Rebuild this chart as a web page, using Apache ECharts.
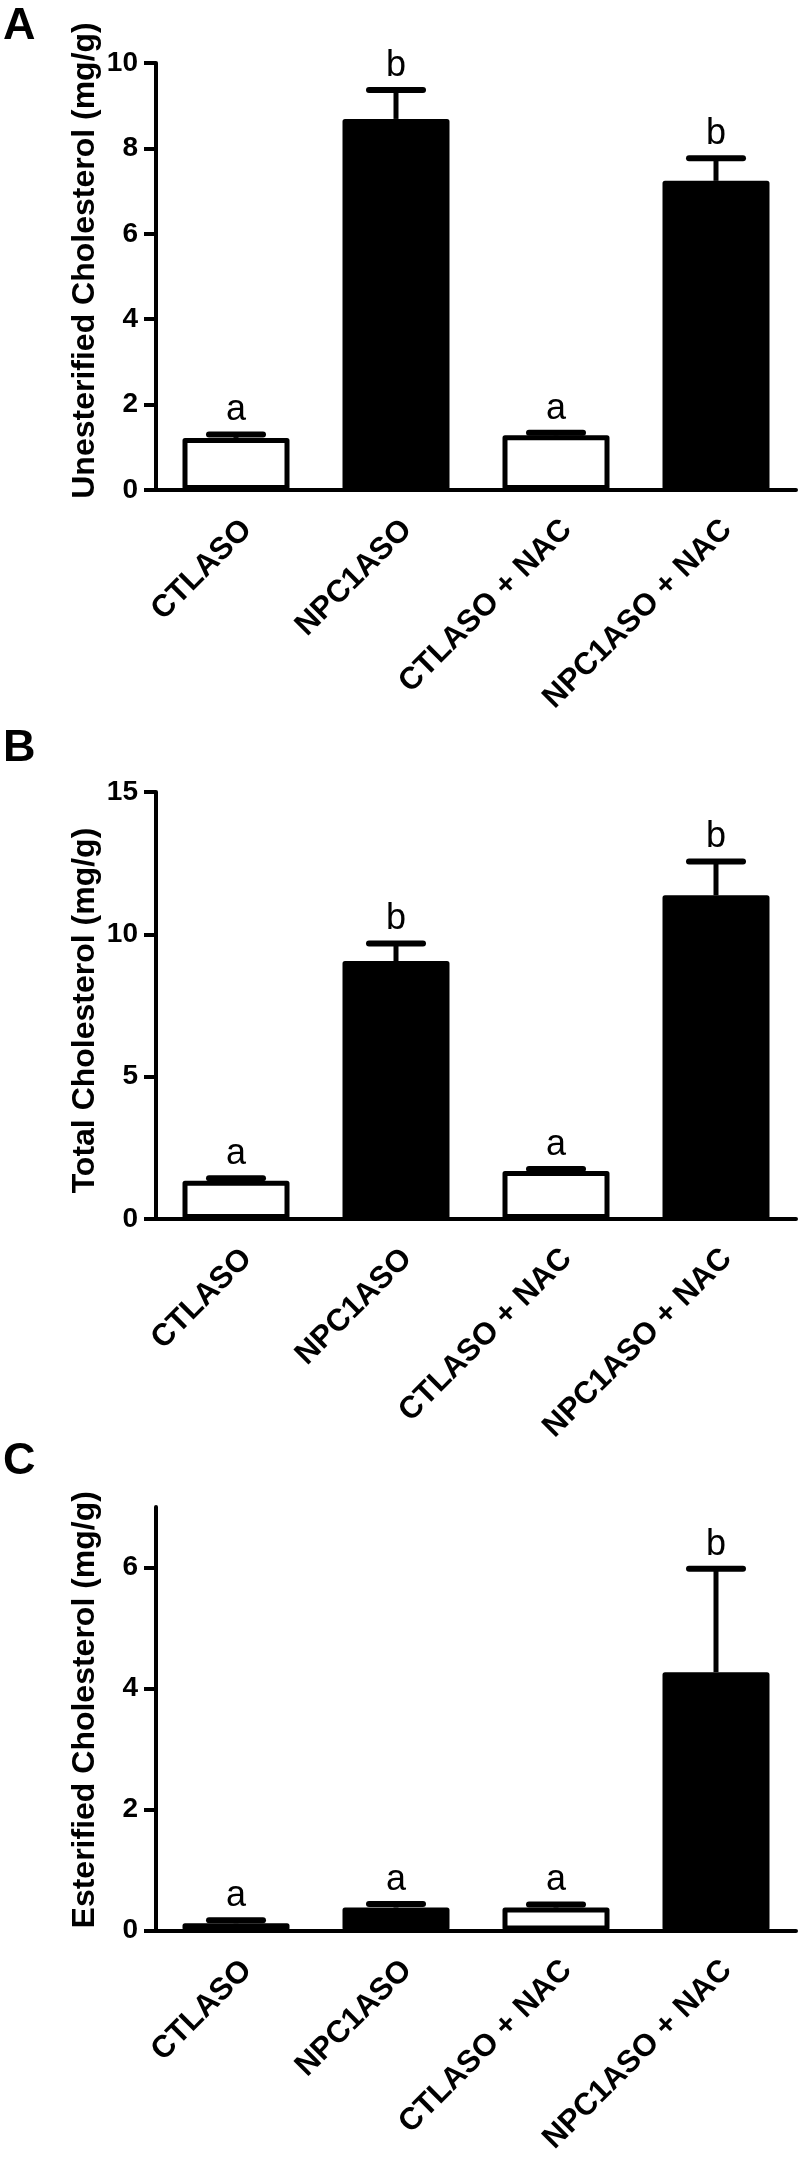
<!DOCTYPE html>
<html><head><meta charset="utf-8">
<script src="https://cdn.jsdelivr.net/npm/echarts@6/dist/echarts.min.js"></script>
<style>html,body{margin:0;padding:0;background:#fff}#c{width:800px;height:2157px}</style>
</head><body><div id="c"></div>
<script>
const categories = ['CTLASO', 'NPC1ASO', 'CTLASO + NAC', 'NPC1ASO + NAC'];
const barFills = ['#ffffff', '#000000', '#ffffff', '#000000'];
const unestMean = [1.22, 8.69, 1.28, 7.24];
const unestErr = [0.08, 0.68, 0.06, 0.53];
const unestLetters = ['a', 'b', 'a', 'b'];
const totalMean = [1.34, 9.06, 1.69, 11.37];
const totalErr = [0.09, 0.62, 0.07, 1.19];
const totalLetters = ['a', 'b', 'a', 'b'];
const esterMean = [0.12, 0.38, 0.38, 4.27];
const esterErr = [0.05, 0.06, 0.05, 1.71];
const esterLetters = ['a', 'a', 'a', 'b'];
const yTicksA = [0, 2, 4, 6, 8, 10];
const yTicksB = [0, 5, 10, 15];
const yTicksC = [0, 2, 4, 6];
const panelLabels = ['A', 'B', 'C'];
const yTitles = ['Unesterified Cholesterol (mg/g)', 'Total Cholesterol (mg/g)', 'Esterified Cholesterol (mg/g)'];

const FONT = '"Liberation Sans", Arial, Helvetica, sans-serif';
const panels = [
  {mean: unestMean, err: unestErr, letters: unestLetters, ticks: yTicksA, max: 10, interval: 2, top: 63, height: 427, labelTop: 4, namePad: [0, 0, 0, 32]},
  {mean: totalMean, err: totalErr, letters: totalLetters, ticks: yTicksB, max: 15, interval: 5, top: 792, height: 427, labelTop: 726, namePad: [0, 10, 0, 0]},
  {mean: esterMean, err: esterErr, letters: esterLetters, ticks: yTicksC, max: 7, interval: 2, top: 1507, height: 425, labelTop: 1439, namePad: [0, 0, 0, 18]}
];

const grid = [], xAxis = [], yAxis = [], series = [], graphic = [];
panels.forEach((p, i) => {
  grid.push({left: 156, top: p.top, width: 640, height: p.height, containLabel: false});
  xAxis.push({
    type: 'category', gridIndex: i, data: categories, boundaryGap: true,
    axisLine: {lineStyle: {color: '#000', width: 4}},
    axisTick: {alignWithLabel: true, length: 13, lineStyle: {color: '#000', width: 4}},
    axisLabel: {rotate: 45, interval: 0, margin: 24, verticalAlign: 'top', color: '#000', fontFamily: FONT, fontWeight: 'bold', fontSize: 31}
  });
  yAxis.push({
    type: 'value', gridIndex: i, min: 0, max: p.max, interval: p.interval,
    name: yTitles[i], nameLocation: 'middle', nameRotate: 90, nameGap: 55, nameMoveOverlap: false,
    nameTextStyle: {color: '#000', fontFamily: FONT, fontWeight: 'bold', fontSize: 32, padding: p.namePad},
    axisLine: {show: true, lineStyle: {color: '#000', width: 4}},
    axisTick: {show: true, length: 12, customValues: p.ticks, lineStyle: {color: '#000', width: 4}},
    axisLabel: {margin: 18, customValues: p.ticks, color: '#000', fontFamily: FONT, fontWeight: 'bold', fontSize: 28},
    splitLine: {show: false}
  });
  series.push({
    type: 'bar', xAxisIndex: i, yAxisIndex: i, barWidth: 107,
    itemStyle: {borderColor: '#000', borderWidth: 5, borderJoin: 'round'},
    data: p.mean.map((v, j) => ({value: v, itemStyle: {color: barFills[j]}}))
  });
  const letters = p.letters;
  series.push({
    type: 'custom', xAxisIndex: i, yAxisIndex: i, z: 5,
    encode: {x: 0, y: [1, 2]},
    data: p.mean.map((v, j) => [j, v, v + p.err[j]]),
    renderItem: function (params, api) {
      const base = api.coord([api.value(0), api.value(1)]);
      const top = api.coord([api.value(0), api.value(2)]);
      const half = 27;
      return {type: 'group', children: [
        {type: 'line', shape: {x1: base[0], y1: base[1], x2: top[0], y2: top[1]}, style: {stroke: '#000', lineWidth: 5}},
        {type: 'line', shape: {x1: top[0] - half, y1: top[1], x2: top[0] + half, y2: top[1]}, style: {stroke: '#000', lineWidth: 6, lineCap: 'round'}},
        {type: 'text', x: top[0], y: top[1] - 6, style: {text: letters[params.dataIndex], font: '36px ' + FONT, fill: '#000', align: 'center', verticalAlign: 'bottom'}}
      ]};
    }
  });
  graphic.push({type: 'text', left: 3, top: p.labelTop, style: {text: panelLabels[i], font: 'bold 45px ' + FONT, fill: '#000'}});
});

const chart = echarts.init(document.getElementById('c'), null, {renderer: 'canvas'});
chart.setOption({animation: false, backgroundColor: '#fff', grid, xAxis, yAxis, series, graphic});
</script></body></html>
